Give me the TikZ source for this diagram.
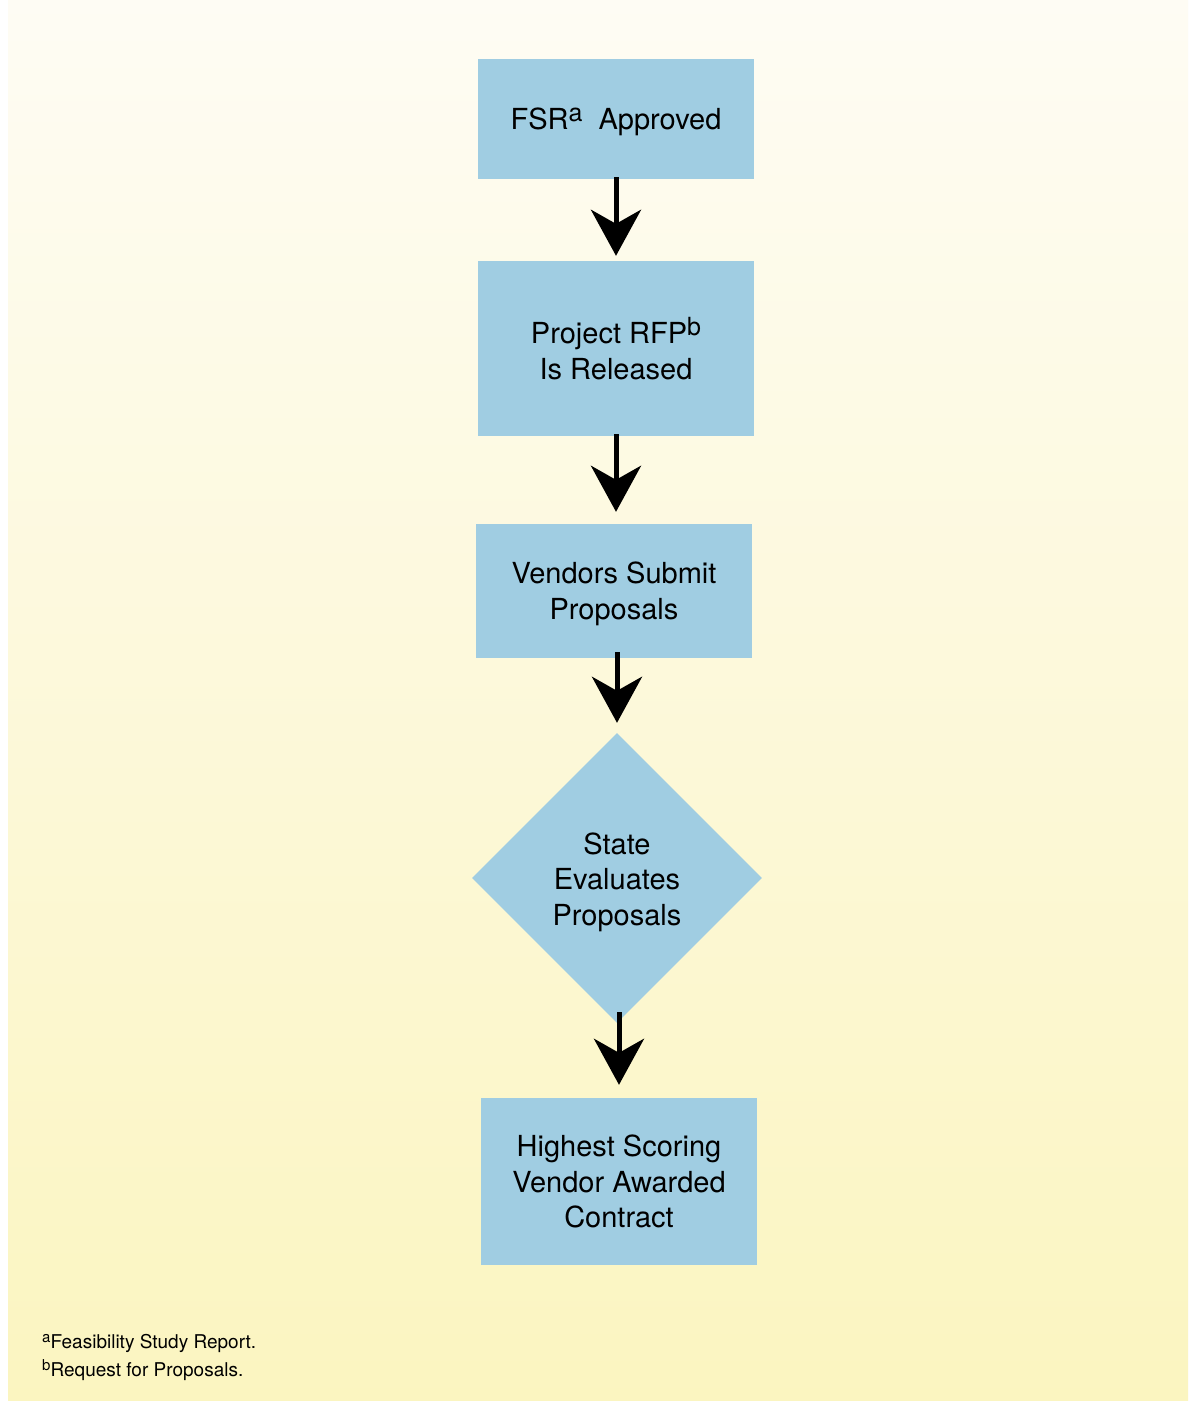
\documentclass[tikz,border=0pt]{standalone}
\usepackage{fontspec}
\setmainfont{TeX Gyre Heros}
\usetikzlibrary{shapes.geometric,arrows.meta}
\definecolor{boxblue}{RGB}{160,205,226}
\definecolor{bgtop}{RGB}{254,252,244}
\definecolor{bgbot}{RGB}{251,245,192}
\tikzset{
  stepbox/.style={rectangle, fill=boxblue, draw=none, inner sep=0pt, align=center,
    minimum width=276pt, font=\fontsize{29}{35.5}\selectfont},
  decision/.style={diamond, fill=boxblue, draw=none, inner sep=0pt, align=center,
    minimum width=290pt, minimum height=290pt, font=\fontsize{29}{35.5}\selectfont},
  flowarrow/.style={line width=5pt, -{Stealth[length=46pt, width=50pt, inset=14pt]}},
  footnote/.style={anchor=base west, inner sep=0pt, font=\fontsize{19}{22}\selectfont}
}
\newcommand{\supl}[1]{\raisebox{0.55ex}{\fontsize{25}{25}\selectfont #1}}
\newcommand{\supfn}[1]{\raisebox{0.6ex}{\fontsize{15}{15}\selectfont #1}}
\newcommand{\lift}[1]{\rule{0pt}{#1}}
\begin{document}
\begin{tikzpicture}[x=1pt, y=-1pt]
\useasboundingbox (0,0) rectangle (1191,1401);
\fill[white] (0,0) rectangle (1191,1401);
\shade[top color=bgtop, bottom color=bgbot] (8,0) rectangle (1188,1401);

\node[stepbox, minimum height=120pt] (fsr) at (616,119) {\lift{28pt}FSR\supl{a}\ \ Approved};
\node[stepbox, minimum height=175pt] (rfp) at (616,348.5) {\lift{24pt}Project RFP\supl{b}\\Is Released};
\node[stepbox, minimum height=134pt] (sub) at (614,591) {\lift{27pt}Vendors Submit\\Proposals};
\node[decision] (eval) at (617,878) {\lift{30pt}State\\Evaluates\\Proposals};
\node[stepbox, minimum height=167pt] (award) at (619,1181.5) {Highest Scoring\\Vendor Awarded\\Contract};

\draw[flowarrow, shorten <=-2pt, shorten >=5pt] (fsr.south) -- (rfp.north);
\draw[flowarrow, shorten <=-2pt, shorten >=12pt] (rfp.south) -- (rfp.south |- sub.north);
\draw[flowarrow, shorten <=-6pt, shorten >=10pt] (sub.south -| eval.north) -- (eval.north);
\draw[flowarrow, shorten <=-11pt, shorten >=13pt] (eval.south -| award.north) -- (award.north);

\node[footnote] (fn1) at (42,1348) {\supfn{a}Feasibility Study Report.};
\node[footnote] (fn2) at (42,1376) {\supfn{b}Request for Proposals.};
\end{tikzpicture}
\end{document}
